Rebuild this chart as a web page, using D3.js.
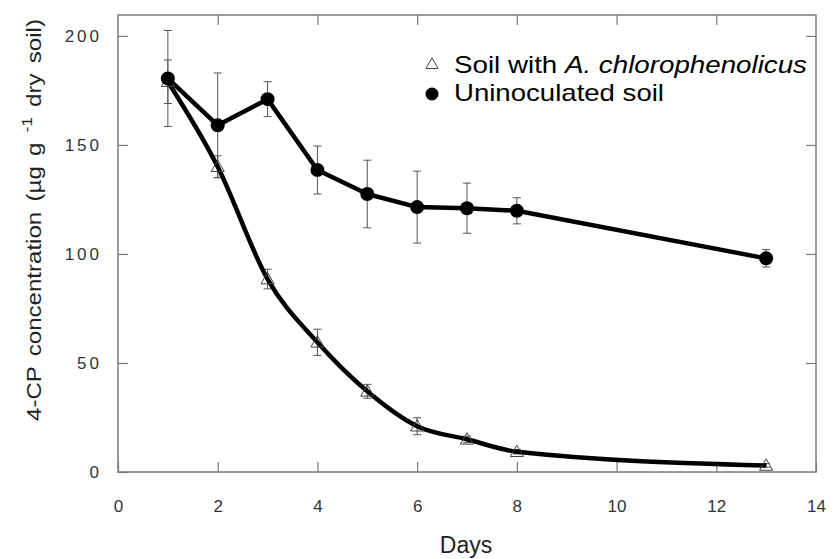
<!DOCTYPE html>
<html>
<head>
<meta charset="utf-8">
<script src="https://cdn.jsdelivr.net/npm/d3@7/dist/d3.min.js"></script>
<style>
  body { margin: 0; background: #fff; }
  text { font-family: "Liberation Sans", Arial, sans-serif; }
</style>
</head>
<body>
<svg width="834" height="559"></svg>
<script>
// data
var days = [1, 2, 3, 4, 5, 6, 7, 8, 13];
var inoculated = [179, 140, 88.5, 59.5, 37, 21, 15, 9.3, 3];
var inoculatedErr = [10, 5, 4.5, 6, 3.2, 3.9, 1.5, 1, 0.8];
var uninoculated = [180.5, 159, 171, 138.5, 127.5, 121.5, 121, 119.8, 98];
var uninoculatedErr = [22, 24, 8, 11, 15.5, 16.5, 11.5, 6, 4];
var xTicks = [0, 2, 4, 6, 8, 10, 12, 14];
var yTicks = [0, 50, 100, 150, 200];

var svg = d3.select("svg"),
    margin = {top: 15, right: 18, bottom: 87, left: 118},
    width = +svg.attr("width") - margin.left - margin.right,
    height = +svg.attr("height") - margin.top - margin.bottom;

var x = d3.scaleLinear().domain([0, 14]).range([0, width]);
var y = d3.scaleLinear().domain([0, 209.6]).range([height, 0]);

var g = svg.append("g")
    .attr("transform", "translate(" + margin.left + "," + margin.top + ")");

var axisColor = "#7a7a7a";

// frame
g.append("rect")
    .attr("width", width).attr("height", height)
    .attr("fill", "none")
    .attr("stroke", axisColor)
    .attr("stroke-width", 1.5);

// axes with inward ticks
function styleAxis(sel) {
  sel.select(".domain").remove();
  sel.selectAll(".tick line").attr("stroke", axisColor).attr("stroke-width", 1.2);
  sel.selectAll(".tick text")
      .attr("fill", "#333")
      .style("font-size", "17px");
}

g.append("g")
    .attr("transform", "translate(0," + height + ")")
    .call(d3.axisBottom(x).tickValues(xTicks).tickSizeInner(-10).tickSizeOuter(0).tickPadding(28))
    .call(styleAxis);

g.append("g")
    .call(d3.axisTop(x).tickValues(xTicks.slice(1, -1)).tickSizeInner(-10).tickSizeOuter(0).tickFormat(""))
    .call(styleAxis);

g.append("g")
    .call(d3.axisLeft(y).tickValues(yTicks).tickSizeInner(-10).tickSizeOuter(0).tickPadding(16))
    .call(styleAxis)
    .selectAll(".tick text").style("letter-spacing", "3px");

g.append("g")
    .attr("transform", "translate(" + width + ",0)")
    .call(d3.axisRight(y).tickValues(yTicks.slice(1)).tickSizeInner(-10).tickSizeOuter(0).tickFormat(""))
    .call(styleAxis);

// axis titles
g.append("text")
    .attr("x", x(7) - 1)
    .attr("y", height + 81)
    .attr("text-anchor", "middle")
    .attr("fill", "#222")
    .style("font-size", "23px")
    .text("Days");

var yTitle = g.append("text")
    .attr("text-anchor", "middle")
    .attr("fill", "#222")
    .style("font-size", "20px")
    .style("word-spacing", "3px");
yTitle.append("tspan").text("4-CP concentration (\u00b5g  g ");
yTitle.append("tspan").attr("dy", -9).style("font-size", "14px").text("-1");
yTitle.append("tspan").attr("dy", 9).text("  dry soil)");
// stretch along the text direction to match the figure
var titleLen = yTitle.node().getComputedTextLength();
var stretch = 402 / titleLen;
yTitle.attr("transform", "translate(" + (-77) + "," + (220 - margin.top) + ") rotate(-90) scale(" + stretch + ",1)");

var uninocRows = days.map(function(d, i) { return {day: d, v: uninoculated[i], e: uninoculatedErr[i]}; });
var inocRows = days.map(function(d, i) { return {day: d, v: inoculated[i], e: inoculatedErr[i]}; });

// error bars
function errorBars(rows) {
  var eb = g.append("g").selectAll("g").data(rows).enter().append("g")
      .attr("stroke", "#555").attr("stroke-width", 1);
  eb.append("line")
      .attr("x1", function(d) { return x(d.day); })
      .attr("x2", function(d) { return x(d.day); })
      .attr("y1", function(d) { return y(d.v - d.e); })
      .attr("y2", function(d) { return y(d.v + d.e); });
  eb.append("line")
      .attr("x1", function(d) { return x(d.day) - 4; })
      .attr("x2", function(d) { return x(d.day) + 4; })
      .attr("y1", function(d) { return y(d.v + d.e); })
      .attr("y2", function(d) { return y(d.v + d.e); });
  eb.append("line")
      .attr("x1", function(d) { return x(d.day) - 4; })
      .attr("x2", function(d) { return x(d.day) + 4; })
      .attr("y1", function(d) { return y(d.v - d.e); })
      .attr("y2", function(d) { return y(d.v - d.e); });
}
errorBars(uninocRows);
errorBars(inocRows);

// lines
var lineSmooth = d3.line()
    .x(function(d) { return x(d.day); })
    .y(function(d) { return y(d.v); })
    .curve(d3.curveMonotoneX);
var lineStraight = d3.line()
    .x(function(d) { return x(d.day); })
    .y(function(d) { return y(d.v); });

g.append("path").datum(inocRows)
    .attr("d", lineSmooth)
    .attr("fill", "none").attr("stroke", "#000").attr("stroke-width", 4.5)
    .attr("stroke-linejoin", "round");
g.append("path").datum(uninocRows)
    .attr("d", lineStraight)
    .attr("fill", "none").attr("stroke", "#000").attr("stroke-width", 4.5)
    .attr("stroke-linejoin", "round");

// markers
var tri = d3.symbol().type(d3.symbolTriangle).size(75);
g.append("g").selectAll("path").data(inocRows).enter().append("path")
    .attr("transform", function(d) { return "translate(" + x(d.day) + "," + (y(d.v) + 1) + ")"; })
    .attr("d", tri)
    .attr("fill", "none")
    .attr("stroke", "#444")
    .attr("stroke-width", 1);

g.append("g").selectAll("circle").data(uninocRows).enter().append("circle")
    .attr("cx", function(d) { return x(d.day); })
    .attr("cy", function(d) { return y(d.v); })
    .attr("r", 7)
    .attr("fill", "#000");

// legend
var legend = g.append("g").attr("transform", "translate(" + (432 - margin.left) + "," + (-margin.top) + ")");
legend.append("path")
    .attr("transform", "translate(0,65)")
    .attr("d", d3.symbol().type(d3.symbolTriangle).size(65))
    .attr("fill", "none").attr("stroke", "#444").attr("stroke-width", 1);
legend.append("circle")
    .attr("cx", 0).attr("cy", 94).attr("r", 6.5).attr("fill", "#000");
legend.append("text")
    .attr("x", 22).attr("y", 73)
    .attr("fill", "#000")
    .attr("textLength", 353)
    .attr("lengthAdjust", "spacingAndGlyphs")
    .style("font-size", "24px")
    .html("Soil with <tspan font-style=\"italic\">A. chlorophenolicus</tspan>");
legend.append("text")
    .attr("x", 22).attr("y", 101)
    .attr("fill", "#000")
    .attr("textLength", 210)
    .attr("lengthAdjust", "spacingAndGlyphs")
    .style("font-size", "24px")
    .text("Uninoculated soil");
</script>
</body>
</html>
